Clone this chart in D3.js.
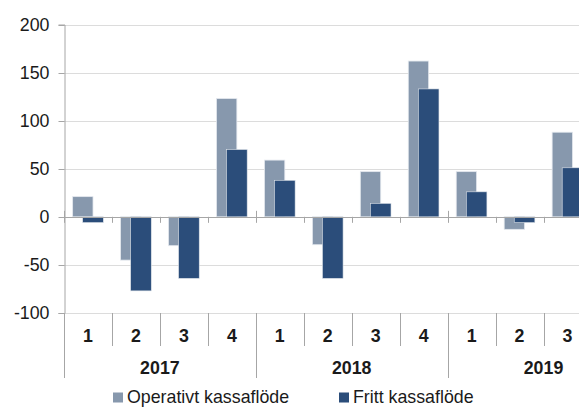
<!DOCTYPE html>
<html>
<head>
<meta charset="utf-8">
<script src="https://cdn.jsdelivr.net/npm/d3@7"></script>
<style>
  html, body { margin: 0; padding: 0; background: #fff; }
  svg { display: block; font-family: "Liberation Sans", Arial, sans-serif; }
</style>
</head>
<body>
<svg id="chart" width="579" height="407"></svg>
<script>
const years = ["2017", "2018", "2019"];
const quarters = ["1", "2", "3", "4", "1", "2", "3", "4", "1", "2", "3"];
const quarterYears = ["2017", "2017", "2017", "2017", "2018", "2018", "2018", "2018", "2019", "2019", "2019"];
const operativt = [21, -45, -30, 123, 59, -29, 47, 162, 47, -13, 88];
const fritt = [-6, -77, -64, 70, 38, -64, 14, 133, 26, -6, 51];
const yTicks = [-100, -50, 0, 50, 100, 150, 200];
const seriesNames = ["Operativt kassaflöde", "Fritt kassaflöde"];
const colors = ["#8798ad", "#2b4d7a"];

const svg = d3.select("#chart");
const left = 64, bw = 47.95;
const fs = "17.8px";
const idx = d3.range(quarters.length);
const x = d3.scaleBand().domain(idx).range([left, left + bw * quarters.length]).padding(0);
const y = d3.scaleLinear().domain([-100, 200]).range([313, 24.5]);
const axisColor = "#a6a6a6";

// gridlines
svg.append("g").selectAll("line").data(yTicks.filter(d => d !== 0)).join("line")
  .attr("x1", left).attr("x2", 579)
  .attr("y1", d => Math.round(y(d)) + 0.5).attr("y2", d => Math.round(y(d)) + 0.5)
  .attr("stroke", "#dcdcdc").attr("stroke-width", 1);

// y axis
const yAxis = d3.axisLeft(y).tickValues(yTicks).tickSize(6).tickPadding(9).tickFormat(d => String(d));
const gy = svg.append("g").attr("transform", `translate(${left + 0.5},0)`).call(yAxis);
gy.select(".domain").attr("stroke", axisColor);
gy.selectAll(".tick line").attr("stroke", axisColor);
gy.selectAll(".tick text").attr("fill", "#1a1a1a").style("font-size", fs)
  .attr("font-family", "Liberation Sans, Arial, sans-serif");
gy.selectAll(".tick").attr("transform", d => `translate(0,${Math.round(y(d)) + 0.5})`);

// bars
const bw0 = x.bandwidth();
const g1 = svg.append("g");
g1.selectAll("rect.op").data(idx).join("rect").attr("class", "op")
  .attr("x", i => x(i) + bw0 * 0.18)
  .attr("width", bw0 * 0.425)
  .attr("y", i => y(Math.max(0, operativt[i])))
  .attr("height", i => Math.abs(y(operativt[i]) - y(0)))
  .attr("fill", colors[0]).attr("stroke", "#e4e8ee").attr("stroke-width", 0.8);
g1.selectAll("rect.fr").data(idx).join("rect").attr("class", "fr")
  .attr("x", i => x(i) + bw0 * 0.39)
  .attr("width", bw0 * 0.43)
  .attr("y", i => y(Math.max(0, fritt[i])))
  .attr("height", i => Math.abs(y(fritt[i]) - y(0)))
  .attr("fill", colors[1]).attr("stroke", "#dfe4ea").attr("stroke-width", 0.6);

// zero line
svg.append("line").attr("x1", left).attr("x2", 579)
  .attr("y1", Math.round(y(0)) + 0.5).attr("y2", Math.round(y(0)) + 0.5)
  .attr("stroke", axisColor);

// category axis separators
const yBase = Math.round(y(-100));
const sepG = svg.append("g").attr("stroke", axisColor);
idx.forEach(i => {
  const isYearStart = i === 0 || quarterYears[i] !== quarterYears[i - 1];
  sepG.append("line")
    .attr("x1", Math.round(x(i)) + 0.5).attr("x2", Math.round(x(i)) + 0.5)
    .attr("y1", isYearStart ? y(0) - 6 : y(0)).attr("y2", y(0) + 6);
  sepG.append("line")
    .attr("x1", Math.round(x(i)) + 0.5).attr("x2", Math.round(x(i)) + 0.5)
    .attr("y1", yBase).attr("y2", isYearStart ? 378 : 346);
});

// quarter labels
svg.append("g").selectAll("text").data(idx).join("text")
  .attr("x", i => x(i) + bw0 / 2).attr("y", 341.5)
  .attr("text-anchor", "middle").attr("font-weight", "bold")
  .attr("font-size", fs).attr("fill", "#1a1a1a")
  .text(i => quarters[i]);

// year labels
years.forEach(yr => {
  const members = idx.filter(i => quarterYears[i] === yr);
  const x0 = x(members[0]);
  const x1 = yr === "2019" ? x(members[0]) + bw0 * 4 : x(members[members.length - 1]) + bw0;
  svg.append("text").attr("x", (x0 + x1) / 2).attr("y", 374)
    .attr("text-anchor", "middle").attr("font-weight", "bold")
    .attr("font-size", fs).attr("fill", "#1a1a1a").text(yr);
});

// legend
const legendX = [113, 339];
seriesNames.forEach((name, k) => {
  svg.append("rect").attr("x", legendX[k]).attr("y", 392.5).attr("width", 10).attr("height", 10)
    .attr("fill", colors[k]);
  svg.append("text").attr("x", legendX[k] + 14).attr("y", 403)
    .attr("font-size", fs).attr("fill", "#1a1a1a").text(name);
});
</script>
</body>
</html>
